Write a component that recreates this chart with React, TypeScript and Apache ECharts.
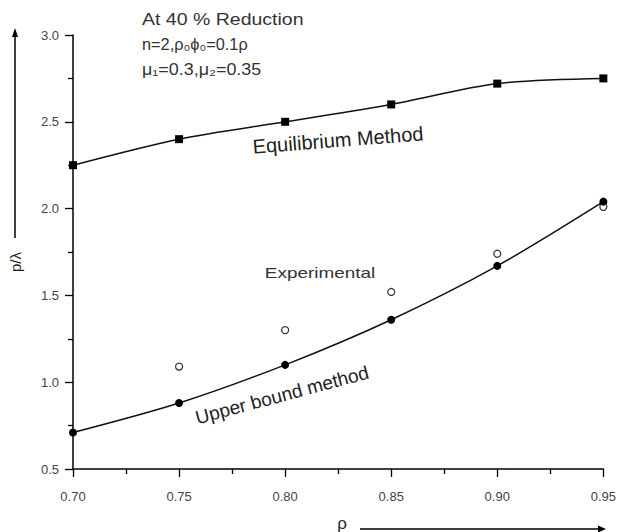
import React, { useEffect, useRef } from "react";
import * as echarts from "echarts";

const rho = [0.7, 0.75, 0.8, 0.85, 0.9, 0.95];
const equilibrium = [2.25, 2.4, 2.5, 2.6, 2.72, 2.75];
const upperBound = [0.71, 0.88, 1.1, 1.36, 1.67, 2.04];
const experimental: (number | null)[] = [null, 1.09, 1.3, 1.52, 1.74, 2.01];

const FONT = "'Liberation Sans', Arial, sans-serif";

export default function App() {
  const ref = useRef<HTMLDivElement>(null);
  useEffect(() => {
    document.body.style.margin = "0";
    const chart = echarts.init(ref.current!, null, { renderer: "svg" });
    const pairs = (ys: (number | null)[]) =>
      rho.map((x, i) => (ys[i] == null ? null : [x, ys[i]])).filter((d) => d !== null);
    chart.setOption({
      animation: false,
      backgroundColor: "#fff",
      grid: { left: 73, right: 11, top: 35, bottom: 63 },
      xAxis: {
        type: "value",
        min: 0.7,
        max: 0.95,
        interval: 0.05,
        axisLine: { show: true, lineStyle: { color: "#000", width: 1.5 } },
        axisTick: { show: true, length: 8, lineStyle: { color: "#000", width: 1.3 } },
        minorTick: { show: true, splitNumber: 2, length: 5, lineStyle: { color: "#000", width: 1.3 } },
        splitLine: { show: false },
        axisLabel: {
          color: "#444",
          fontFamily: FONT,
          fontSize: 13,
          margin: 21,
          formatter: (v: number) => v.toFixed(2),
        },
      },
      yAxis: {
        type: "value",
        min: 0.5,
        max: 3.0,
        interval: 0.5,
        axisLine: { show: true, lineStyle: { color: "#000", width: 1.5 } },
        axisTick: { show: true, length: 8, lineStyle: { color: "#000", width: 1.3 } },
        minorTick: { show: true, splitNumber: 2, length: 5, lineStyle: { color: "#000", width: 1.3 } },
        splitLine: { show: false },
        axisLabel: {
          color: "#444",
          fontFamily: FONT,
          fontSize: 13,
          margin: 14,
          formatter: (v: number) => v.toFixed(1),
        },
      },
      series: [
        {
          name: "Equilibrium Method",
          type: "line",
          data: pairs(equilibrium),
          smooth: 0.3,
          symbol: "rect",
          symbolSize: 8,
          lineStyle: { color: "#111", width: 1.5 },
          itemStyle: { color: "#000" },
        },
        {
          name: "Upper bound method",
          type: "line",
          data: pairs(upperBound),
          smooth: 0.3,
          symbol: "circle",
          symbolSize: 8,
          lineStyle: { color: "#111", width: 1.5 },
          itemStyle: { color: "#000" },
        },
        {
          name: "Experimental",
          type: "scatter",
          data: pairs(experimental),
          symbol: "circle",
          symbolSize: 7,
          itemStyle: { color: "#fff", borderColor: "#000", borderWidth: 1.2 },
        },
      ],
      graphic: [
        {
          type: "text",
          x: 142,
          y: 20,
          scaleX: 1.22,
          style: { text: "At 40 % Reduction", fill: "#333", font: `16px ${FONT}`, verticalAlign: "middle" },
        },
        {
          type: "text",
          x: 142,
          y: 44,
          scaleX: 1.02,
          style: { text: "n=2,ρ₀ϕ₀=0.1ρ", fill: "#333", font: `16px ${FONT}`, verticalAlign: "middle" },
        },
        {
          type: "text",
          x: 142,
          y: 70,
          scaleX: 1.12,
          style: { text: "μ₁=0.3,μ₂=0.35", fill: "#333", font: `16px ${FONT}`, verticalAlign: "middle" },
        },
        {
          type: "text",
          x: 338,
          y: 140,
          rotation: (4.5 * Math.PI) / 180,
          style: {
            text: "Equilibrium Method",
            fill: "#222",
            font: `20px ${FONT}`,
            align: "center",
            verticalAlign: "middle",
          },
        },
        {
          type: "text",
          x: 320,
          y: 273,
          scaleX: 1.35,
          style: {
            text: "Experimental",
            fill: "#333",
            font: `14px ${FONT}`,
            align: "center",
            verticalAlign: "middle",
          },
        },
        {
          type: "text",
          x: 282,
          y: 395,
          rotation: (15 * Math.PI) / 180,
          style: {
            text: "Upper bound method",
            fill: "#222",
            font: `19px ${FONT}`,
            align: "center",
            verticalAlign: "middle",
          },
        },
        {
          type: "text",
          x: 15,
          y: 262,
          rotation: Math.PI / 2,
          style: {
            text: "p/λ",
            fill: "#222",
            font: `15px ${FONT}`,
            align: "center",
            verticalAlign: "middle",
          },
        },
        {
          type: "line",
          shape: { x1: 15, y1: 34, x2: 15, y2: 238 },
          style: { stroke: "#000", lineWidth: 1.5 },
        },
        {
          type: "polygon",
          shape: { points: [[15, 28], [12, 37], [18, 37]] },
          style: { fill: "#000" },
        },
        {
          type: "text",
          x: 342,
          y: 523,
          style: {
            text: "ρ",
            fill: "#222",
            font: `17px ${FONT}`,
            align: "center",
            verticalAlign: "middle",
          },
        },
        {
          type: "line",
          shape: { x1: 360, y1: 529, x2: 600, y2: 529 },
          style: { stroke: "#000", lineWidth: 1.5 },
        },
        {
          type: "polygon",
          shape: { points: [[606, 529], [598, 525.5], [598, 532.5]] },
          style: { fill: "#000" },
        },
      ],
    });
    return () => chart.dispose();
  }, []);
  return <div ref={ref} style={{ width: 619, height: 532 }} />;
}
